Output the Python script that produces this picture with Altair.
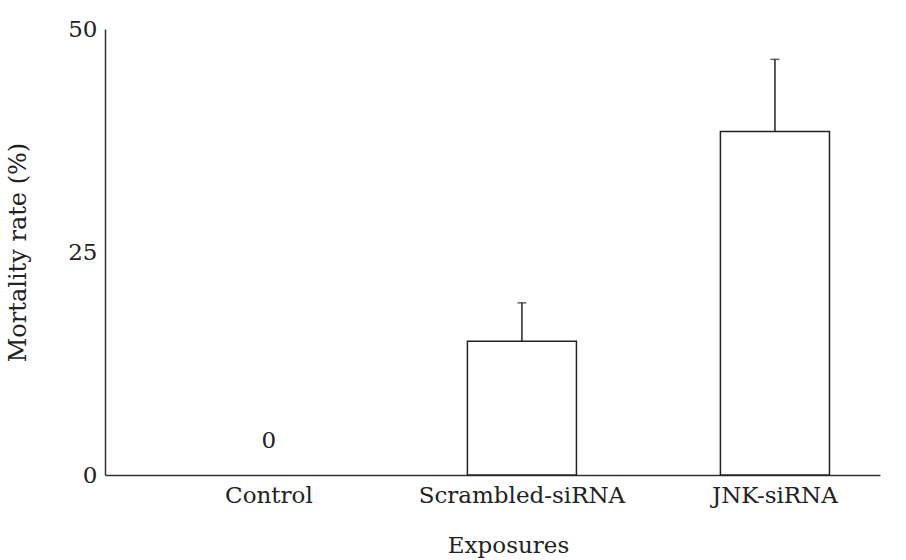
import altair as alt
import pandas as pd

categories = ["Control", "Scrambled-siRNA", "JNK-siRNA"]
mortality = [0.0, 15.0, 38.5]
errors = [0.0, 4.3, 8.1]

df = pd.DataFrame({"cat": categories, "val": mortality, "err": errors})
df["top"] = df["val"] + df["err"]

FONT = "DejaVu Serif"

xscale = alt.Scale(domain=categories, paddingInner=0.569, paddingOuter=0.316, align=0.684)
yscale = alt.Scale(domain=[0, 50])

x_axis = alt.Axis(title="Exposures", labelAngle=0, ticks=False, domain=True, domainColor="#333",
                  domainWidth=1.5, labelFont=FONT, labelFontSize=23, labelColor="#222",
                  labelPadding=9, labelLimit=0, titleFont=FONT, titleFontSize=23,
                  titleFontWeight="normal", titleColor="#222", titleX=403, titleY=70,
                  titleBaseline="middle")
y_axis = alt.Axis(title="Mortality rate (%)", values=[0, 25, 50], ticks=False, grid=False,
                  domainColor="#333", domainWidth=1.5, labelFont=FONT, labelFontSize=23,
                  labelColor="#222", labelPadding=8, titleFont=FONT, titleFontSize=24,
                  titleFontWeight="normal", titleColor="#222", titleX=-87, titleY=223,
                  titleBaseline="middle", titleAngle=270)

base = alt.Chart(df)

bars = base.transform_filter("datum.val > 0").mark_bar(
    fill="white", stroke="#222", strokeWidth=1.5
).encode(
    x=alt.X("cat:N", scale=xscale, axis=x_axis, sort=categories),
    y=alt.Y("val:Q", scale=yscale, axis=y_axis),
)

err_rule = base.transform_filter("datum.err > 0").mark_rule(color="#222", strokeWidth=1.5).encode(
    x=alt.X("cat:N", scale=xscale, sort=categories),
    y=alt.Y("val:Q", scale=yscale),
    y2="top:Q",
)

err_cap = base.transform_filter("datum.err > 0").mark_tick(
    color="#222", thickness=1.5, size=9, orient="horizontal"
).encode(
    x=alt.X("cat:N", scale=xscale, sort=categories),
    y=alt.Y("top:Q", scale=yscale),
)

zero_label = base.transform_filter("datum.val == 0").mark_text(
    font=FONT, fontSize=23, color="#222", baseline="middle", dy=-34
).encode(
    x=alt.X("cat:N", scale=xscale, sort=categories),
    y=alt.Y("val:Q", scale=yscale),
    text=alt.Text("val:Q", format="d"),
)

chart = alt.layer(bars, err_rule, err_cap, zero_label).properties(
    width=775, height=446,
    autosize=alt.AutoSizeParams(type="none"),
    padding={"left": 105, "top": 29, "right": 26, "bottom": 85},
    background="white",
).configure_view(stroke=None)

chart.save("out.html", embed_options={"renderer": "svg", "actions": False})
